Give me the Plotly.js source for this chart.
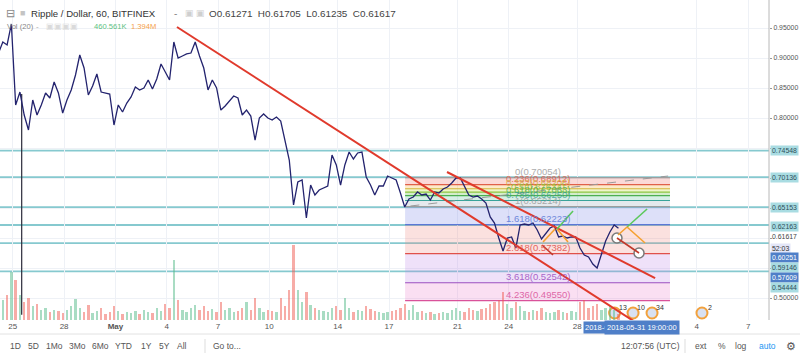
<!DOCTYPE html>
<html><head><meta charset="utf-8">
<script src="https://cdn.plot.ly/plotly-3.0.1.min.js"></script>
<style>html,body{margin:0;padding:0;background:#fff;}#chart{width:800px;height:356px;}</style>
</head><body><div id="chart"></div>
<script>
// ---------- DATA ----------
const startTime = Date.UTC(2018, 3, 24, 4, 0);   // first sample, 6-hour steps
const stepHours = 6;
const prices = [
 0.9083,0.9267,0.9217,0.9567,0.8217,0.8433,0.8050,0.7800,0.8300,0.8050,
 0.8217,0.8417,0.8333,0.8600,0.8417,0.8083,0.8300,0.8467,0.8717,0.9050,
 0.8833,0.8383,0.8533,0.8733,0.8433,0.8417,0.8400,0.7883,0.8217,0.8100,
 0.8250,0.8350,0.8517,0.8467,0.8500,0.8633,0.8483,0.8650,0.8900,0.8767,
 0.8633,0.9267,0.9000,0.9033,0.9067,0.9083,0.9267,0.9033,0.8833,0.8467,
 0.8633,0.8500,0.8133,0.8200,0.8283,0.8367,0.8333,0.8050,0.8133,0.8033,
 0.7633,0.8000,0.8067,0.8000,0.7967,0.8017,0.7950,0.7633,0.7300,0.6550,
 0.6933,0.6967,0.6333,0.6883,0.6717,0.6800,0.6833,0.6867,0.7383,0.7217,
 0.6883,0.7217,0.7433,0.7317,0.7417,0.7433,0.7017,0.6883,0.6717,0.6867,
 0.6867,0.7033,0.7000,0.6967,0.6750,0.6517,0.6650,0.6683,0.6767,0.6717,
 0.6733,0.6633,0.6767,0.6750,0.6817,0.6850,0.6917,0.7000,0.7000,0.6850,
 0.6717,0.6683,0.6700,0.6650,0.6583,0.6350,0.6250,0.6000,0.5783,0.6000,
 0.6017,0.5833,0.6217,0.6233,0.6217,0.6250,0.6133,0.5983,0.6067,0.6167,
 0.6200,0.6017,0.6033,0.6000,0.6017,0.6017,0.5833,0.5717,0.5683,0.5567,
 0.5500,0.5717,0.5950,0.6100,0.6217,0.61617
];
const volumes = [ // millions
 1.6,2.7,3.3,6.4,5.3,3.3,2.4,2.9,1.9,2.1,
 1.3,1.6,1.1,1.3,1.2,0.9,1.3,1.9,2.8,1.6,
 1.1,2.0,0.9,1.2,1.6,0.8,1.1,1.9,1.2,0.8,
 1.1,0.9,1.2,0.8,1.3,1.1,0.9,1.6,1.2,2.1,
 1.6,8.0,2.7,1.3,1.1,1.6,2.0,1.3,1.9,1.2,
 1.5,1.1,2.4,1.3,1.6,1.1,1.2,1.6,2.4,1.3,
 2.9,1.6,1.1,1.3,1.2,1.1,2.9,1.9,4.0,10.0,
 4.0,2.4,3.7,2.0,1.6,1.3,1.2,1.1,1.6,1.9,
 1.3,2.9,1.6,1.1,1.3,1.2,1.9,1.5,1.2,1.1,
 0.9,1.1,1.2,1.3,1.6,2.1,1.3,2.0,1.1,1.2,
 0.9,1.1,0.8,0.9,1.1,0.9,1.3,1.6,1.2,1.1,
 1.6,1.3,1.2,1.5,1.6,2.1,2.4,2.7,3.7,2.1,
 1.6,2.4,1.9,1.2,1.1,1.3,1.2,1.6,1.1,0.9,
 1.1,1.3,1.1,0.9,1.2,1.1,2.4,2.7,1.6,1.9,
 2.1,1.3,1.6,1.9,1.3,0.8
];
const tickDates  = ['2018-04-25','2018-04-28','2018-05-01','2018-05-04','2018-05-07','2018-05-10','2018-05-14','2018-05-17','2018-05-21','2018-05-24','2018-05-28','2018-06-04','2018-06-07'];
const tickLabels = ['25','28','<b>May</b>','4','7','10','14','17','21','24','28','4','7'];
const priceTicks = [0.50,0.55,0.60,0.65,0.70,0.75,0.80,0.85,0.90,0.95];
const priceTickText = ['0.50000','','','','','','0.80000','0.85000','0.90000','0.95000'];
const hLevels = [0.74548,0.70136,0.65153,0.62163,0.59146,0.54444];
const fibLevels = [0,0.236,0.382,0.5,0.618,0.786,1,1.618,2.618,3.618,4.236];
const fibPrices = [0.70054,0.68912,0.68205,0.67634,0.67063,0.66250,0.65214,0.62223,0.57382,0.52542,0.49550];
const fibColors = ['#9e9e9e','#e0604a','#d2b43c','#8cc63f','#4caf50','#3aa39a','#9e9e9e','#5b78d6','#e0504a','#9b4fc0','#d9529a'];
const fibFills  = ['rgba(240,120,110,0.28)','rgba(250,190,90,0.32)','rgba(205,225,90,0.32)','rgba(120,200,90,0.32)','rgba(90,190,150,0.25)','rgba(160,175,190,0.28)','rgba(120,130,230,0.25)','rgba(240,130,120,0.24)','rgba(190,130,230,0.24)','rgba(235,120,200,0.24)'];
const fibSpanDays = [22.94, 38.43];            // days after 2018-04-25 00:00
const viewDays = [-0.7485, 44.22];
// drawings (day offsets / prices)
const channelA = {d:[9.60, 36.39], p:[0.9517, 0.4600]};
const channelB = {d:[25.39, 37.56], p:[0.7100, 0.5333]};
const dashedTrend = {d:[23.25, 38.32], p:[0.6533, 0.7033]};
const wickLine = {d:[0.52, 0.52], p:[0.840, 0.472]};
const projections = [
 {d:[31.006,31.708], p:[0.5933,0.6150], c:'#f5a030'},
 {d:[31.825,32.468], p:[0.6150,0.5933], c:'#f5a030'},
 {d:[31.825,32.760], p:[0.6150,0.6450], c:'#5cc85c'},
 {d:[30.950,31.590], p:[0.5883,0.5717], c:'#c0392b'},
 {d:[35.390,35.920], p:[0.6050,0.6183], c:'#f5a030'},
 {d:[35.920,37.090], p:[0.6183,0.6483], c:'#5cc85c'},
 {d:[35.920,36.970], p:[0.6183,0.5917], c:'#f5a030'},
 {d:[35.330,36.620], p:[0.6000,0.5750], c:'#c0392b'}
];
const circleDays = [35.33, 36.62];
const circlePrices = [0.6000, 0.5750];
const eventDays = [35.19, 36.27, 37.38, 40.30];
const eventCounts = ['13','10','34','2'];
const scaleLabels = [ // text, slot price, style
 ['0.74548',0.74548,'t'],['0.70136',0.70136,'t'],['0.65153',0.65153,'t'],['0.62163',0.6200,'t'],
 ['0.61617',0.6025,'p'],['52:03',0.5833,'l'],['0.60251',0.5675,'d'],['0.59146',0.5508,'t'],
 ['0.57609',0.5342,'d'],['0.54444',0.5175,'t']
];

// ---------- HELPERS ----------
const base = Date.UTC(2018,3,25,0,0);
const toStr = ms => new Date(ms).toISOString().slice(0,16).replace('T',' ');
const dayStr = d => toStr(base + d*864e5);
const W = 769, H = 320;
const px = x => x / W, py = y => 1 - y / H;
const FONT = 'Liberation Sans, Arial, sans-serif';

const times = prices.map((_, i) => toStr(startTime + i*stepHours*3600e3));
const volColors = prices.map((p, i) => (i === 0 || p >= prices[i-1]) ? 'rgba(83,185,135,0.5)' : 'rgba(240,90,80,0.5)');

// ---------- TRACES ----------
const traces = [
 {type:'bar', x:times, y:volumes, yaxis:'y2', marker:{color:volColors}, width:stepHours*3600e3*0.55, hoverinfo:'skip'},
 {type:'scatter', mode:'lines', x:times, y:prices, line:{color:'#23236e', width:1.3}, hoverinfo:'skip'},
 {type:'scatter', mode:'markers', x:circleDays.map(dayStr), y:circlePrices,
  marker:{size:10, color:'#ffffff', line:{color:'#7a7a7a', width:1.5}}, hoverinfo:'skip'},
 {type:'scatter', mode:'markers', x:eventDays.map(dayStr), y:eventDays.map(()=>0.475), cliponaxis:false,
  marker:{size:11, color:'#d9e1f2', line:{color:'#f2a13c', width:2}}, hoverinfo:'skip'}
];

// ---------- SHAPES ----------
const shapes = [];
const f0 = dayStr(fibSpanDays[0]), f1 = dayStr(fibSpanDays[1]);
for (let i = 0; i < fibFills.length; i++) {
  shapes.push({type:'rect', xref:'x', yref:'y', x0:f0, x1:f1, y0:fibPrices[i+1], y1:fibPrices[i],
    fillcolor:fibFills[i], line:{width:0}, layer:'between'});
}
fibPrices.forEach((p,i) => shapes.push({type:'line', xref:'x', yref:'y', x0:f0, x1:f1, y0:p, y1:p,
  line:{color:fibColors[i], width:1.2}, layer:'between'}));
hLevels.forEach(p => shapes.push({type:'line', xref:'paper', yref:'y', x0:0, x1:1, y0:p, y1:p,
  line:{color:'#86c9cf', width:1.8}, layer:'between'}));
const seg = (o, color, width, dash, layer) => shapes.push({type:'line', xref:'x', yref:'y',
  x0:dayStr(o.d[0]), x1:dayStr(o.d[1]), y0:o.p[0], y1:o.p[1], line:{color, width, dash:dash||'solid'}, layer:layer||'above'});
seg(dashedTrend, '#9a9a9a', 1, 'dash', 'between');
seg(wickLine, '#2a2a3a', 1.2, 'solid', 'between');
seg(channelA, '#e03a2c', 2);
seg(channelB, '#e03a2c', 2);
projections.forEach(o => seg(o, o.c, 1.6));
// chart frame lines
shapes.push({type:'line', xref:'paper', yref:'paper', x0:1, x1:1, y0:0, y1:1, line:{color:'#b8b8b8', width:1}});
shapes.push({type:'line', xref:'paper', yref:'paper', x0:0, x1:800/W, y0:py(334), y1:py(334), line:{color:'#e2e2e2', width:1}});
shapes.push({type:'line', xref:'paper', yref:'paper', x0:px(205), x1:px(205), y0:py(339), y1:py(353), line:{color:'#dddddd', width:1}});
shapes.push({type:'line', xref:'paper', yref:'paper', x0:px(685), x1:px(685), y0:py(339), y1:py(353), line:{color:'#dddddd', width:1}});

// ---------- ANNOTATIONS ----------
const ann = [];
const txt = (t, x, y, size, color, anchor) => ann.push({text:t, xref:'paper', yref:'paper', x:px(x), y:py(y),
  xanchor:anchor||'left', yanchor:'middle', showarrow:false, font:{family:FONT, size, color}});
// header
txt('⊟', 4, 13, 11, '#8a8a8a');
txt('■', 18, 13, 9, '#c4c4c4');
txt('Ripple / Dollar, 60, BITFINEX', 29, 13, 9.6, '#333333');
txt('-', 172, 13, 10, '#888');
txt('▣ ▣', 183, 13, 8.5, '#cfcfcf');
txt('O0.61271  H0.61705  L0.61235  C0.61617', 207, 13, 9.9, '#444444');
txt('Vol (20)', 5, 27, 7.6, '#888');
txt('-', 34, 27, 8, '#aaa');
txt('▣▣▣▣', 44, 27, 8, '#dadada');
txt('460.561K', 92, 27, 7.6, '#5cbf7f');
txt('1.394M', 129, 27, 7.6, '#f5a04a');
// bottom bar
[['1D',15],['5D',33],['1Mo',54],['3Mo',77],['6Mo',100],['YTD',123],['1Y',146],['5Y',164],['All',182],['Go to...',227],
 ['12:07:56 (UTC)',650],['ext',701],['%',722],['log',741]].forEach(([t,x]) => txt(t, x, 346, 8.5, '#555', 'center'));
txt('auto', 767, 346, 8.5, '#2196f3', 'center');
txt('⚙', 791, 346, 11, '#555', 'center');
// fib labels
const fibMid = dayStr((fibSpanDays[0]+fibSpanDays[1])/2);
fibLevels.forEach((l,i) => ann.push({text:`${l}(${fibPrices[i].toFixed(5)})`, x:fibMid, y:fibPrices[i], xref:'x', yref:'y',
  yshift:6, showarrow:false, font:{family:FONT, size:9.5, color:fibColors[i]}, opacity:0.85}));
// right scale labels
const styles = {t:{bg:'#a9dce2', fc:'#2f4f5a'}, d:{bg:'#4f7fc8', fc:'#ffffff'}, l:{bg:'#e3e6f8', fc:'#333'}, p:{bg:'rgba(0,0,0,0)', fc:'#444'}};
scaleLabels.forEach(([t,p,s]) => ann.push({text:t, xref:'paper', yref:'y', x:1, y:p, xanchor:'left', yanchor:'middle', xshift:1,
  showarrow:false, bgcolor:styles[s].bg, borderpad:1, font:{family:FONT, size:6.9, color:styles[s].fc}}));
// event counts
eventDays.forEach((d,i) => ann.push({text:eventCounts[i], xref:'x', yref:'paper', x:dayStr(d), y:py(307), xshift:8,
  xanchor:'center', yanchor:'middle', showarrow:false, font:{family:FONT, size:7, color:'#333'}}));
// crosshair time labels
ann.push({text:'2018-0', xref:'x', yref:'paper', x:dayStr(36.79), y:py(327), xanchor:'right', yanchor:'middle', xshift:-32,
  showarrow:false, bgcolor:'#4f7fc8', borderpad:1, font:{family:FONT, size:7.5, color:'#fff'}});
ann.push({text:'2018-05-31 19:00:00', xref:'x', yref:'paper', x:dayStr(36.79), y:py(327), xanchor:'center', yanchor:'middle',
  showarrow:false, bgcolor:'#4f7fc8', borderpad:2, font:{family:FONT, size:7.5, color:'#fff'}});

// ---------- LAYOUT ----------
const layout = {
  width:800, height:356, margin:{l:0, r:31, t:0, b:36},
  paper_bgcolor:'#ffffff', plot_bgcolor:'#ffffff', showlegend:false, bargap:0,
  font:{family:FONT},
  xaxis:{type:'date', range:[dayStr(viewDays[0]), dayStr(viewDays[1])], tickmode:'array', tickvals:tickDates, ticktext:tickLabels,
    showgrid:true, gridcolor:'#eef1f6', gridwidth:1, zeroline:false, showline:false, ticks:'',
    tickfont:{family:FONT, size:8, color:'#555'}, fixedrange:true},
  yaxis:{side:'right', range:[0.46333, 0.99667], tickmode:'array', tickvals:priceTicks, ticktext:priceTickText,
    showgrid:true, gridcolor:'#eef1f6', zeroline:false, ticks:'outside', ticklen:2, tickcolor:'#999',
    tickfont:{family:FONT, size:6.9, color:'#555'}, fixedrange:true},
  yaxis2:{overlaying:'y', range:[0, 42.7], visible:false, fixedrange:true},
  shapes, annotations:ann
};
Plotly.newPlot('chart', traces, layout, {staticPlot:true, displayModeBar:false});
</script></body></html>
